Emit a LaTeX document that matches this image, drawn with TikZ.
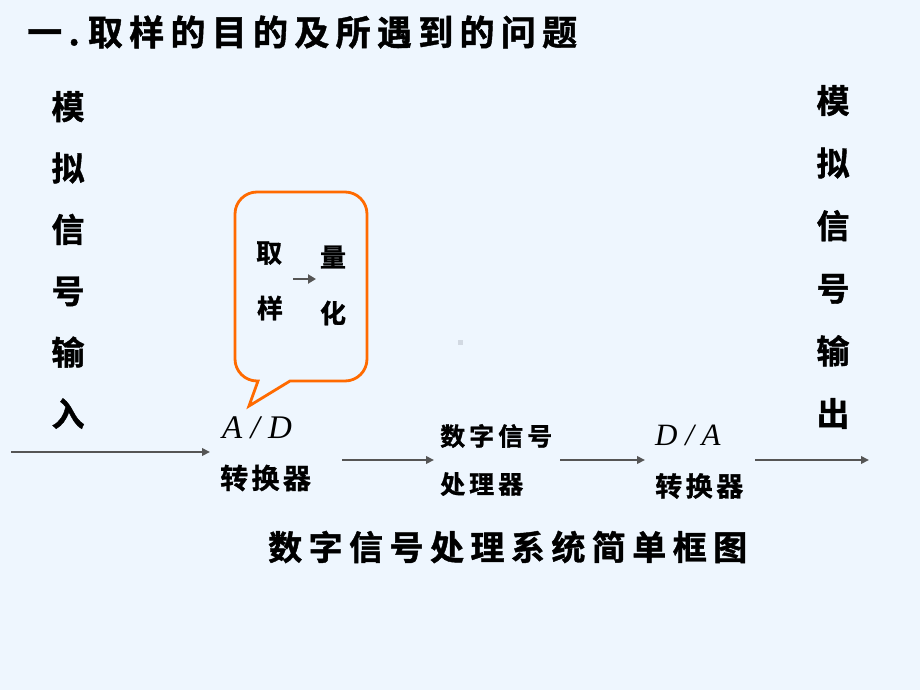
\documentclass[tikz,border=0pt]{standalone}
\usepackage{fontspec}
\usetikzlibrary{arrows.meta}
\newfontfamily\cjk{Noto Sans CJK SC}[BoldFont={* Bold}, BoldFeatures={FakeBold=1.2}]
\newfontfamily\tms{Liberation Serif}
\definecolor{bgblue}{HTML}{EEF6FE}
\definecolor{calloutorange}{HTML}{FF6A00}
\definecolor{arrowgray}{HTML}{555555}
\definecolor{dotgray}{HTML}{D2D9E2}
\tikzset{
  cjktext/.style={inner sep=0pt, anchor=west, text=black},
  flowarrow/.style={draw=arrowgray, line width=2.2pt, -{Triangle[length=8pt,width=7.5pt]}},
  smallarrow/.style={draw=arrowgray, line width=2.8pt, -{Triangle[length=8pt,width=9pt]}},
  callout/.style={draw=calloutorange, line width=2.8pt, line join=miter},
  columntext/.style={inner sep=0pt, align=center, text=black}
}
\begin{document}
\begin{tikzpicture}[x=1pt,y=-1pt]
\fill[bgblue] (0,0) rectangle (920,690);
\useasboundingbox (0,0) rectangle (920,690);
% title
\node[cjktext, font={\cjk\bfseries\fontsize{35}{40}\selectfont\addfontfeature{LetterSpace=18}}] (title) at (27,32) {一.\hspace{8pt}取样的目的及所遇到的问题};
% columns
\node[columntext, font={\cjk\bfseries\fontsize{33}{61.4}\selectfont}] (incol) at (68,260) {模\\拟\\信\\号\\输\\入};
\node[columntext, font={\cjk\bfseries\fontsize{33}{62.6}\selectfont}] (outcol) at (833,257) {模\\拟\\信\\号\\输\\出};
% callout
\draw[callout] (290,381) [rounded corners=22pt] -- (367,381) -- (367,192) -- (235,192) -- (235,381) [sharp corners] -- (258,381) -- (249,406) -- cycle;
\node[inner sep=0pt, font={\cjk\bfseries\fontsize{26}{30}\selectfont}] (qu) at (269,253) {取};
\node[inner sep=0pt, font={\cjk\bfseries\fontsize{26}{30}\selectfont}] (yang) at (270,308) {样};
\node[inner sep=0pt, font={\cjk\bfseries\fontsize{26}{30}\selectfont}] (liang) at (333,257) {量};
\node[inner sep=0pt, font={\cjk\bfseries\fontsize{26}{30}\selectfont}] (hua) at (333,313) {化};
\coordinate (sa1) at (293,279);
\coordinate (sa2) at (316,279);
\draw[smallarrow] (sa1) -- (sa2);
% blocks
\node[cjktext, font={\tms\itshape\fontsize{33}{36}\selectfont}] (ad) at (222,428) {A / D};
\node[cjktext, font={\cjk\bfseries\fontsize{28}{32}\selectfont\addfontfeature{LetterSpace=12}}] (adc) at (220,478) {转换器};
\node[cjktext, font={\cjk\bfseries\fontsize{25}{30}\selectfont\addfontfeature{LetterSpace=16}}] (dsp1) at (440,436) {数字信号};
\node[cjktext, font={\cjk\bfseries\fontsize{25}{30}\selectfont\addfontfeature{LetterSpace=16}}] (dsp2) at (440,484) {处理器};
\node[cjktext, font={\tms\itshape\fontsize{31}{34}\selectfont}] (da) at (655,435) {D / A};
\node[cjktext, font={\cjk\bfseries\fontsize{27}{32}\selectfont\addfontfeature{LetterSpace=13}}] (dac) at (655,486) {转换器};
% arrows
\coordinate (a1s) at (11,452);
\coordinate (a1e) at (210,452);
\coordinate (a2s) at (342,460);
\coordinate (a2e) at (434,460);
\coordinate (a3s) at (560,460);
\coordinate (a3e) at (645,460);
\coordinate (a4s) at (755,460);
\coordinate (a4e) at (869,460);
\draw[flowarrow] (a1s) -- (a1e);
\draw[flowarrow] (a2s) -- (a2e);
\draw[flowarrow] (a3s) -- (a3e);
\draw[flowarrow] (a4s) -- (a4e);
% caption
\node[cjktext, font={\cjk\bfseries\fontsize{34}{40}\selectfont\addfontfeature{LetterSpace=19}}] (caption) at (268,547) {数字信号处理系统简单框图};
% small dot
\fill[dotgray] (457.5,339.5) rectangle (462.5,344.5);
\end{tikzpicture}
\end{document}
